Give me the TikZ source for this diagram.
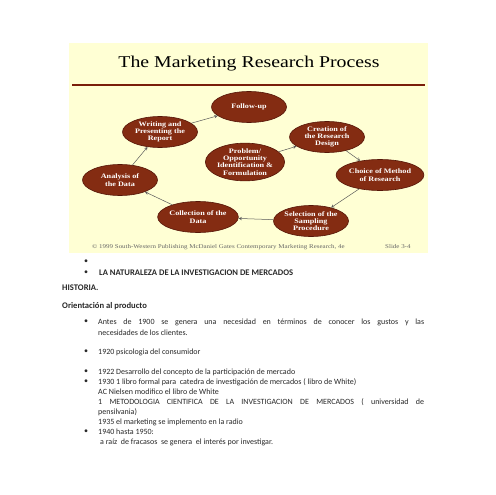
\documentclass[tikz,border=0pt]{standalone}
\usepackage{fontspec}
\setmainfont{Carlito}
\newfontfamily\slidefont[FakeStretch=1.2]{Liberation Serif}
\definecolor{SlideYellow}{RGB}{255, 255, 212}
\definecolor{Rust}{RGB}{132, 44, 18}
\definecolor{RustDark}{RGB}{86, 22, 8}
\definecolor{RuleRed}{RGB}{122, 30, 10}
\definecolor{InkGray}{RGB}{40, 40, 40}
\usetikzlibrary{arrows.meta, shapes.geometric}

\begin{document}
\begin{tikzpicture}[
        x=1pt, y=-1pt,
        stage/.style={ellipse, draw=RustDark, line width=0.6pt, fill=Rust, text=white, minimum width=75pt, minimum height=31pt, inner sep=0pt, align=center, font=\slidefont\bfseries\fontsize{6.8}{7.3}\selectfont},
        arrow/.style={->, >=stealth, draw=black!65, line width=0.5pt},
        line/.style={anchor=mid west, inner sep=0pt, text=InkGray, font=\fontsize{8}{9}\selectfont},
        heading/.style={line, font=\fontsize{8.6}{9}\selectfont\bfseries},
        bul/.style={inner sep=0pt, text=InkGray, font=\fontsize{8}{9}\selectfont}
    ]
        \useasboundingbox (0,0) rectangle (495,495);
        \fill[white] (0,0) rectangle (495,495);

        % slide
        \fill[SlideYellow] (69,43) rectangle (428,253);
        \node[anchor=base, inner sep=0pt, font=\slidefont\fontsize{16.5}{18}\selectfont] (title) at (249,67) {The Marketing Research Process};
        \draw[RuleRed, line width=1.3pt] (72,85) -- (425,85);

        \node[stage] (followup) at (249,107) {Follow-up};
        \node[stage] (writing) at (160,132) {Writing and\\Presenting the\\Report};
        \node[stage] (creation) at (327,137) {Creation of\\the Research\\Design};
        \node[stage] (problem) at (245,162) {Problem/\\Opportunity\\Identification \&\\Formulation};
        \node[stage] (choice) at (380,175) {Choice of Method\\of Research};
        \node[stage] (analysis) at (120,180) {Analysis of\\the Data};
        \node[stage] (collection) at (198,217) {Collection of the\\Data};
        \node[stage] (selection) at (311,221) {Selection of the\\Sampling\\Procedure};

        \draw[arrow] (problem) -- (creation);
        \draw[arrow] (creation) -- (choice);
        \draw[arrow] (choice) -- (selection);
        \draw[arrow] (selection) -- (collection);
        \draw[arrow] (collection) -- (analysis);
        \draw[arrow] (analysis) -- (writing);
        \draw[arrow] (writing) -- (followup);

        \node[anchor=mid west, inner sep=0pt, text=black!60, font=\slidefont\fontsize{5.8}{6}\selectfont] (credit) at (92,246) {© 1999 South-Western Publishing McDaniel Gates Contemporary Marketing Research, 4e};
        \node[anchor=mid west, inner sep=0pt, text=black!60, font=\slidefont\fontsize{5.8}{6}\selectfont] (slideno) at (385,246) {Slide 3-4};

        % text below the slide
        \node[bul] (b0) at (86,262) {•};
        \node[bul] (b1) at (86,273) {•};
        \node[heading] (nature) at (99,273) {LA NATURALEZA DE LA INVESTIGACION DE MERCADOS};
        \node[heading] (history) at (62,288) {HISTORIA.};
        \node[heading] (product) at (62,306) {Orientación al producto};

        \node[bul] (b2) at (86,322) {•};
        \node[line] (t1900) at (98,322) {\makebox[326pt][s]{Antes de 1900 se genera una necesidad en términos de conocer los gustos y las}};
        \node[line] (t1900b) at (98,333) {necesidades de los clientes.};
        \node[bul] (b3) at (86,352) {•};
        \node[line] (t1920) at (98,352) {1920 psicologia del consumidor};
        \node[bul] (b4) at (86,372) {•};
        \node[line] (t1922) at (98,372) {1922 Desarrollo del concepto de la participación de mercado};
        \node[bul] (b5) at (86,382) {•};
        \node[line] (t1930) at (98,382) {1930 1 libro formal para\ \ catedra de investigación de mercados ( libro de White)};
        \node[line] (tnielsen) at (98,392) {AC Nielsen modifico el libro de White};
        \node[line] (tmethod) at (98,402) {\makebox[326pt][s]{1 METODOLOGIA CIENTIFICA DE LA INVESTIGACION DE MERCADOS ( universidad de}};
        \node[line] (tmethodb) at (98,412) {pensilvania)};
        \node[line] (t1935) at (98,422) {1935 el marketing se implemento en la radio};
        \node[bul] (b6) at (86,432) {•};
        \node[line] (t1940) at (98,432) {1940 hasta 1950:};
        \node[line] (t1940b) at (100,442) {a raíz\ \ de fracasos\ \ se genera\ \ el interés por investigar.};
    \end{tikzpicture}
\end{document}
